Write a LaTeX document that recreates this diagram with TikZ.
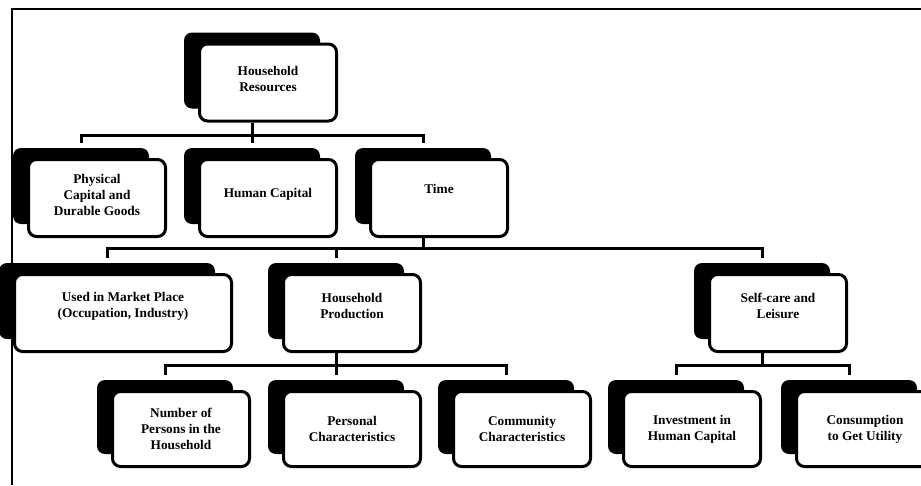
\documentclass[tikz,border=0pt]{standalone}
\usepackage{fontspec}
\setmainfont{Liberation Serif}
\usetikzlibrary{backgrounds}

\tikzset{
  resbox/.style={draw, line width=3pt, rounded corners=8pt, fill=white,
    minimum width=137pt, minimum height=77pt, align=center, inner sep=2pt,
    font=\bfseries\fontsize{13.3}{16}\selectfont},
  lift/.style={text depth=#1},
  link/.style={line width=3pt},
}

\begin{document}
\begin{tikzpicture}[x=1pt,y=-1pt]
\useasboundingbox (0,0) rectangle (921,485);
\draw[line width=2pt] (12,485) -- (12,8.5) -- (921,8.5);

% level 1
\node[resbox, lift=7pt] (hr) at (268,82.5) {Household\\Resources};
% level 2
\node[resbox, lift=7pt] (phys) at (97,198) {Physical\\Capital and\\Durable Goods};
\node[resbox, lift=10pt] (human) at (268,198) {Human Capital};
\node[resbox, lift=19pt] (time) at (439,198) {Time};
% level 3
\node[resbox, lift=16pt, minimum width=217pt] (market) at (123,313) {Used in Market Place\\(Occupation, Industry)};
\node[resbox, lift=14pt] (prod) at (352,313) {Household\\Production};
\node[resbox, lift=14pt] (leisure) at (778,313) {Self-care and\\Leisure};
% level 4
\node[resbox, minimum height=75pt] (persons) at (181,429) {Number of\\Persons in the\\Household};
\node[resbox, minimum height=75pt] (personal) at (352,429) {Personal\\Characteristics};
\node[resbox, minimum height=75pt] (community) at (522,429) {Community\\Characteristics};
\node[resbox, minimum height=75pt] (invest) at (692,429) {Investment in\\Human Capital};
\node[resbox, minimum height=75pt] (consume) at (865,429) {Consumption\\to Get Utility};

% shadows
\begin{scope}[on background layer]
\foreach \n in {hr,phys,human,time,market,prod,leisure,persons,personal,community,invest,consume}
  \fill[rounded corners=8pt] ([shift={(-14,-10)}]\n.north west) rectangle ([shift={(-18,-14)}]\n.south east);
\end{scope}

% connectors
\draw[link] ([xshift=-16pt]hr.south) -- ++(0,13) -| ([shift={(-16,-15)}]phys.north);
\draw[link] ([xshift=-16pt]hr.south) -- ++(0,13) -| ([shift={(-16,-15)}]human.north);
\draw[link] ([xshift=-16pt]hr.south) -- ++(0,13) -| ([shift={(-16,-15)}]time.north);

\draw[link] ([xshift=-16pt]time.south) -- ++(0,10) -| ([shift={(-16,-15)}]market.north);
\draw[link] ([xshift=-16pt]time.south) -- ++(0,10) -| ([shift={(-16,-15)}]prod.north);
\draw[link] ([xshift=-16pt]time.south) -- ++(0,10) -| ([shift={(-16,-15)}]leisure.north);

\draw[link] ([xshift=-16pt]prod.south) -- ++(0,12) -| ([shift={(-16,-15)}]persons.north);
\draw[link] ([xshift=-16pt]prod.south) -- ++(0,12) -| ([shift={(-16,-15)}]personal.north);
\draw[link] ([xshift=-16pt]prod.south) -- ++(0,12) -| ([shift={(-16,-15)}]community.north);

\draw[link] ([xshift=-16pt]leisure.south) -- ++(0,12) -| ([shift={(-16,-15)}]invest.north);
\draw[link] ([xshift=-16pt]leisure.south) -- ++(0,12) -| ([shift={(-16,-15)}]consume.north);
\end{tikzpicture}
\end{document}
